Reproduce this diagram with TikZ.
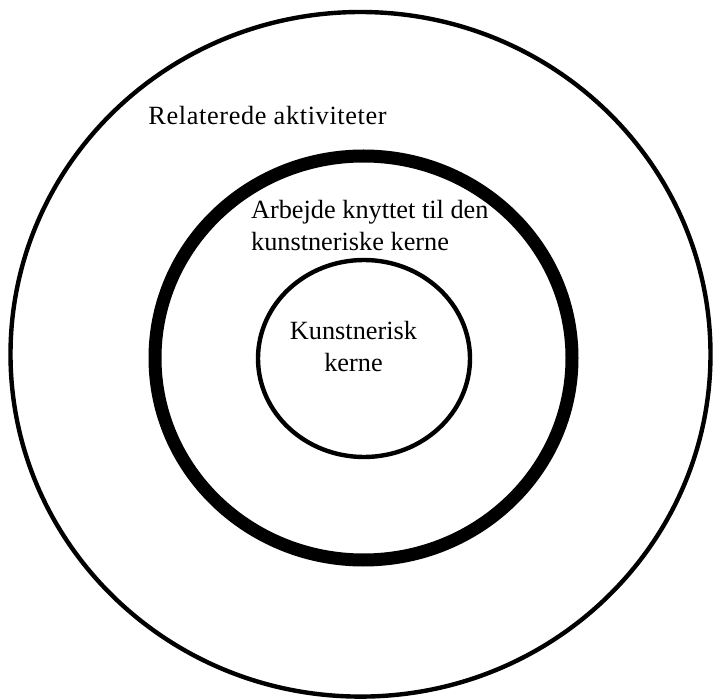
\documentclass[tikz,border=0pt]{standalone}
\usepackage{fontspec}
\setmainfont{Liberation Serif}
\usetikzlibrary{shapes}
\tikzset{ring/.style={draw, ellipse, inner sep=0pt, line width=2.2pt}}

\begin{document}
\begin{tikzpicture}[x=0.5pt, y=-0.5pt, font=\fontsize{13.15pt}{16pt}\selectfont]
\useasboundingbox (0, 0) rectangle (713, 700);

\node[ring, minimum width=350pt, minimum height=342.3pt] (outer) at (360.5, 354.3) {};
\node[ring, line width=6.5pt, minimum width=208.5pt, minimum height=202pt] (middle) at (363.5, 358) {};
\node[ring, minimum width=106pt, minimum height=98.5pt] (core) at (364, 358.5) {};

\node[anchor=base west, inner sep=0pt] (outertext) at (148, 125) {\addfontfeature{LetterSpace=2.4}Relaterede aktiviteter};
\node[anchor=base west, align=left, inner sep=0pt] (middletext) at (250.7, 251) {Arbejde knyttet til den \\ kunstneriske kerne};
\node[anchor=base, align=center, inner sep=0pt] (coretext) at (353.5, 371.7) {Kunstnerisk \\ kerne};
\end{tikzpicture}
\end{document}
